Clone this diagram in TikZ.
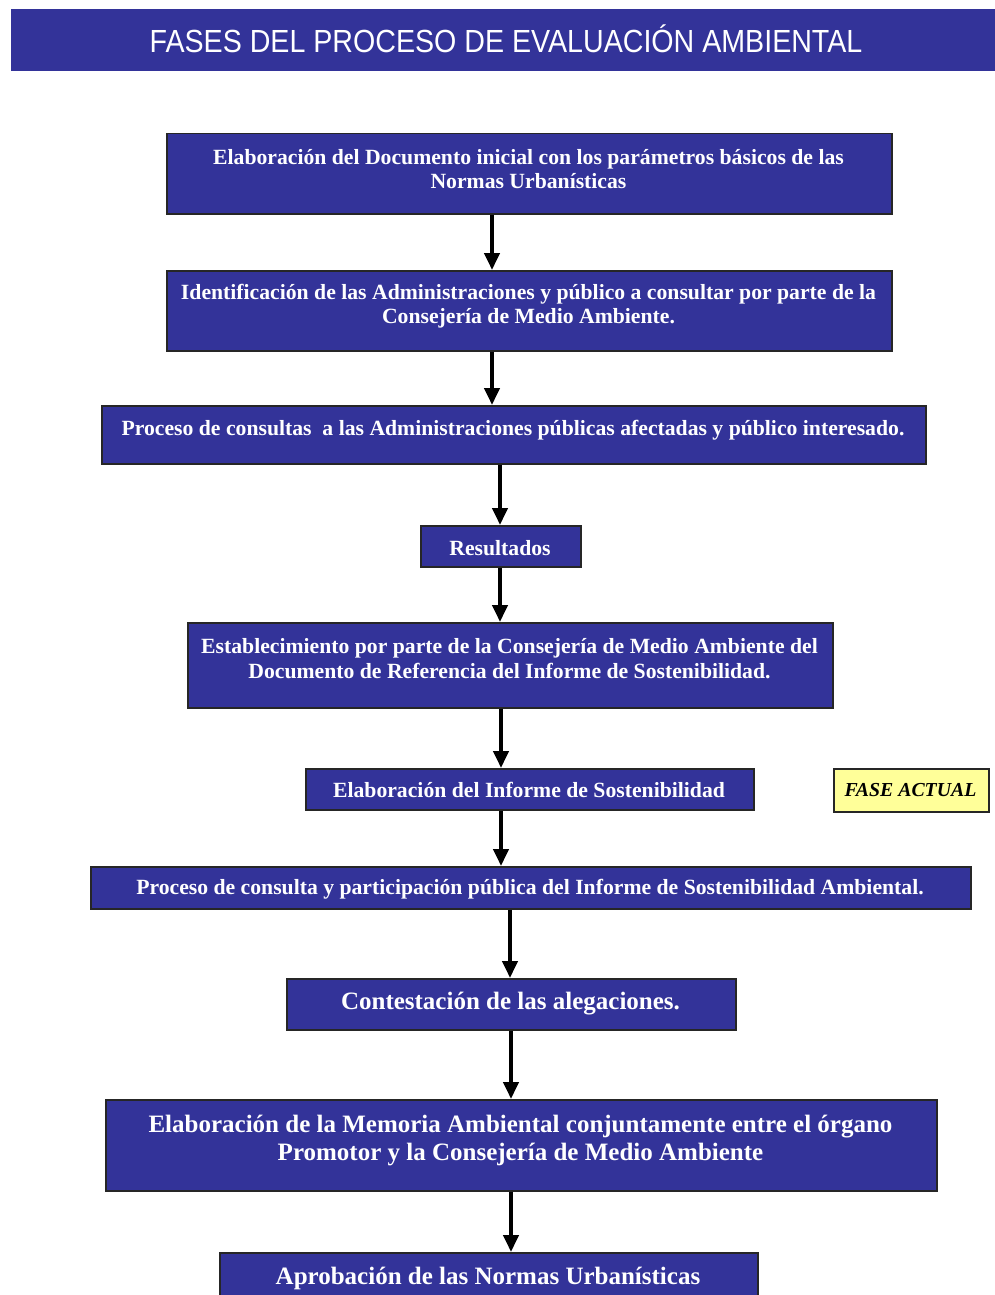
\documentclass[tikz,border=0pt]{standalone}
\usepackage{fontspec}
\setmainfont{Liberation Serif}
\setsansfont{Liberation Sans}
\usetikzlibrary{arrows.meta}
\definecolor{boxblue}{HTML}{333399}
\definecolor{fasey}{HTML}{FFFF99}
\begin{document}
\begin{tikzpicture}[x=1pt,y=-1pt,
  box/.style={draw=black!85, line width=1.5pt, fill=boxblue, inner sep=0pt, anchor=north west},
  ybox/.style={draw=black!85, line width=1.5pt, fill=fasey, inner sep=0pt, anchor=north west},
  txt/.style={text=white, font=\bfseries\fontsize{21.7}{24}\selectfont, align=center, inner sep=0pt},
  txtb/.style={text=white, font=\bfseries\fontsize{25}{28}\selectfont, align=center, inner sep=0pt},
  arr/.style={line width=4pt, -{Triangle[width=15pt,length=17pt]}}]
\useasboundingbox (0,0) rectangle (995,1295);
\clip (0,0) rectangle (995,1295);
% title
\node[box, draw=none, minimum width=985pt, minimum height=62pt] (title) at (10,8) {};
\node[text=white, font=\sffamily\fontsize{32}{36}\selectfont, inner sep=0pt] (titletxt) at (506,39) {\scalebox{0.894}[1]{FASES DEL PROCESO DE EVALUACIÓN AMBIENTAL}};
% boxes
\node[box, minimum width=725pt, minimum height=80pt] (b1) at (166,133) {};
\node[txt] (t1) at (528.5,169) {Elaboración del Documento inicial con los parámetros básicos de las\\Normas Urbanísticas};
\node[box, minimum width=725pt, minimum height=80pt] (b2) at (166,270) {};
\node[txt] (t2) at (528.5,306) {Identificación de las Administraciones y público a consultar por parte de la\\Consejería de Medio Ambiente.};
\node[box, minimum width=824pt, minimum height=58pt] (b3) at (101,405) {};
\node[txt] (t3) at (513,430) {Proceso de consultas\ \ a las Administraciones públicas afectadas y público interesado.};
\node[box, minimum width=160pt, minimum height=41pt] (b4) at (420,525) {};
\node[txt] (t4) at (500,548) {Resultados};
\node[box, minimum width=645pt, minimum height=85pt] (b5) at (187,622) {};
\node[txt, font=\bfseries\fontsize{21.7}{25}\selectfont] (t5) at (509.5,658.5) {Establecimiento por parte de la Consejería de Medio Ambiente del\\Documento de Referencia del Informe de Sostenibilidad.};
\node[box, minimum width=448pt, minimum height=41pt] (b6) at (305,768) {};
\node[txt] (t6) at (529,790) {Elaboración del Informe de Sostenibilidad};
\node[ybox, minimum width=155pt, minimum height=43pt] (fa) at (833,768) {};
\node[txt, text=black, font=\bfseries\itshape\fontsize{19.8}{24}\selectfont] (tfa) at (910.5,790) {FASE ACTUAL};
\node[box, minimum width=880pt, minimum height=42pt] (b7) at (90,866) {};
\node[txt] (t7) at (530,889) {Proceso de consulta y participación pública del Informe de Sostenibilidad Ambiental.};
\node[box, minimum width=449pt, minimum height=51pt] (b8) at (286,978) {};
\node[txtb] (t8) at (510.5,1004) {Contestación de las alegaciones.};
\node[box, minimum width=831pt, minimum height=91pt] (b9) at (105,1099) {};
\node[txtb] (t9) at (520.5,1140) {Elaboración de la Memoria Ambiental conjuntamente entre el órgano\\Promotor y la Consejería de Medio Ambiente};
\node[box, minimum width=538pt, minimum height=58pt] (b10) at (219,1252) {};
\node[txtb] (t10) at (488,1278) {Aprobación de las Normas Urbanísticas};
% arrows
\draw[arr] (b1.south -| 492,0) -- (b2.north -| 492,0);
\draw[arr] (b2.south -| 492,0) -- (b3.north -| 492,0);
\draw[arr] (b3.south -| 500,0) -- (b4.north -| 500,0);
\draw[arr] (b4.south -| 500,0) -- (b5.north -| 500,0);
\draw[arr] (b5.south -| 501,0) -- (b6.north -| 501,0);
\draw[arr] (b6.south -| 501,0) -- (b7.north -| 501,0);
\draw[arr] (b7.south -| 510,0) -- (b8.north -| 510,0);
\draw[arr] (b8.south -| 511,0) -- (b9.north -| 511,0);
\draw[arr] (b9.south -| 511,0) -- (b10.north -| 511,0);
\end{tikzpicture}
\end{document}
